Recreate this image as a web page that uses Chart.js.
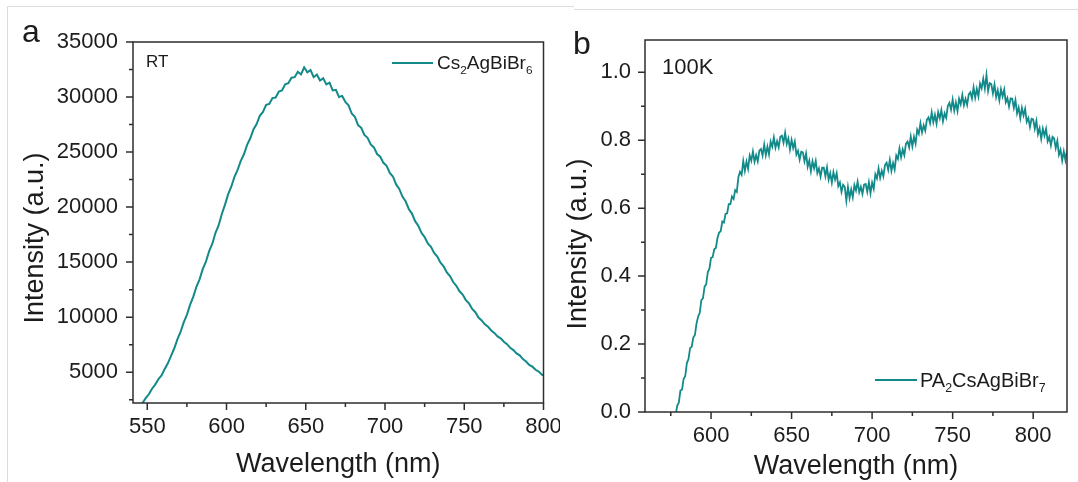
<!DOCTYPE html>
<html>
<head>
<meta charset="utf-8">
<script src="https://cdn.jsdelivr.net/npm/chart.js@4.4.1/dist/chart.umd.min.js"></script>
<style>
  html, body { margin: 0; padding: 0; background: #fff; }
  #wrap { position: relative; width: 1078px; height: 482px; overflow: hidden; background: #fff; }
  #cA { position: absolute; left: 0; top: 0; width: 560px; height: 482px; }
  #cB { position: absolute; left: 560px; top: 0; width: 518px; height: 482px; }
  .edge { position: absolute; background: #dcdcdc; }
</style>
</head>
<body>
<div id="wrap">
  <canvas id="cA" width="560" height="482"></canvas>
  <canvas id="cB" width="518" height="482"></canvas>
  <div class="edge" style="left:7px;top:6px;width:1px;height:476px"></div>
  <div class="edge" style="left:7px;top:6px;width:567px;height:1px"></div>
  <div class="edge" style="left:574px;top:9px;width:504px;height:1px"></div>
</div>
<script>
const FONT = '"Liberation Sans", Arial, sans-serif';
const INK = '#1c1c1c';
const AXIS = '#2e2e2e';
const TEAL = '#138a8a';

// panel a: Cs2AgBiBr6 at room temperature
const wavelengthA = [
  547, 549, 551, 553, 555, 557, 559, 561, 563, 565, 567, 569, 571, 573, 575, 577, 579, 581, 583, 585,
  587, 589, 591, 593, 595, 597, 599, 601, 603, 605, 607, 609, 611, 613, 615, 617, 619, 621, 623, 625,
  627, 629, 631, 633, 635, 637, 639, 641, 643, 645, 647, 649, 651, 653, 655, 657, 659, 661, 663, 665,
  667, 669, 671, 673, 675, 677, 679, 681, 683, 685, 687, 689, 691, 693, 695, 697, 699, 701, 703, 705,
  707, 709, 711, 713, 715, 717, 719, 721, 723, 725, 727, 729, 731, 733, 735, 737, 739, 741, 743, 745,
  747, 749, 751, 753, 755, 757, 759, 761, 763, 765, 767, 769, 771, 773, 775, 777, 779, 781, 783, 785,
  787, 789, 791, 793, 795, 797, 799, 800
];
const intensityA = [
  2200, 2640, 2990, 3500, 3870, 4360, 4700, 5290, 5810, 6490, 7150, 7980, 8650, 9520, 10210, 11120, 11840, 12760, 13440, 14360,
  15040, 15980, 16650, 17640, 18330, 19350, 20200, 21150, 21850, 22750, 23380, 24200, 24800, 25650, 26250, 27050, 27550, 28300, 28650, 29300,
  29380, 29900, 29950, 30500, 30600, 31150, 31250, 31750, 31800, 32300, 32050, 32700, 32250, 32450, 31800, 32050, 31500, 31700, 31150, 31300,
  30600, 30650, 30000, 30100, 29550, 29250, 28500, 28200, 27450, 27200, 26550, 26300, 25700, 25420, 24820, 24580, 24020, 23750, 23100, 22780,
  22060, 21650, 20950, 20530, 19830, 19410, 18720, 18300, 17660, 17280, 16700, 16390, 15830, 15500, 14950, 14610, 14070, 13730, 13190, 12850,
  12350, 12050, 11550, 11250, 10750, 10450, 9960, 9700, 9350, 9130, 8790, 8570, 8250, 8070, 7770, 7550, 7210, 7010, 6710, 6530,
  6190, 5970, 5660, 5500, 5220, 5060, 4780, 4700
];
const xTicksA = [550, 600, 650, 700, 750, 800];
const xMinorA = [575, 625, 675, 725, 775];
const yTicksA = [5000, 10000, 15000, 20000, 25000, 30000, 35000];
const yMinorA = [2500, 7500, 12500, 17500, 22500, 27500, 32500];

// panel b: PA2CsAgBiBr7 at 100 K
const wavelengthB = [
  578, 579, 580, 581, 582, 583, 584, 585, 586, 587, 588, 589, 590, 591, 592, 593, 594, 595, 596, 597,
  598, 599, 600, 601, 602, 603, 604, 605, 606, 607, 608, 609, 610, 611, 612, 613, 614, 615, 616, 617,
  618, 619, 620, 621, 622, 623, 624, 625, 626, 627, 628, 629, 630, 631, 632, 633, 634, 635, 636, 637,
  638, 639, 640, 641, 642, 643, 644, 645, 646, 647, 648, 649, 650, 651, 652, 653, 654, 655, 656, 657,
  658, 659, 660, 661, 662, 663, 664, 665, 666, 667, 668, 669, 670, 671, 672, 673, 674, 675, 676, 677,
  678, 679, 680, 681, 682, 683, 684, 685, 686, 687, 688, 689, 690, 691, 692, 693, 694, 695, 696, 697,
  698, 699, 700, 701, 702, 703, 704, 705, 706, 707, 708, 709, 710, 711, 712, 713, 714, 715, 716, 717,
  718, 719, 720, 721, 722, 723, 724, 725, 726, 727, 728, 729, 730, 731, 732, 733, 734, 735, 736, 737,
  738, 739, 740, 741, 742, 743, 744, 745, 746, 747, 748, 749, 750, 751, 752, 753, 754, 755, 756, 757,
  758, 759, 760, 761, 762, 763, 764, 765, 766, 767, 768, 769, 770, 771, 772, 773, 774, 775, 776, 777,
  778, 779, 780, 781, 782, 783, 784, 785, 786, 787, 788, 789, 790, 791, 792, 793, 794, 795, 796, 797,
  798, 799, 800, 801, 802, 803, 804, 805, 806, 807, 808, 809, 810, 811, 812, 813, 814, 815, 816, 817,
  818, 819, 820, 821
];
const intensityB = [
  -0.010, 0.018, 0.028, 0.063, 0.066, 0.098, 0.106, 0.144, 0.156, 0.188, 0.192, 0.219, 0.227, 0.261, 0.281, 0.292, 0.329, 0.335, 0.369, 0.376,
  0.412, 0.422, 0.454, 0.456, 0.479, 0.483, 0.512, 0.528, 0.532, 0.561, 0.558, 0.583, 0.585, 0.612, 0.612, 0.634, 0.627, 0.653, 0.648, 0.692,
  0.707, 0.698, 0.739, 0.710, 0.737, 0.716, 0.755, 0.740, 0.767, 0.737, 0.756, 0.738, 0.769, 0.774, 0.755, 0.787, 0.756, 0.781, 0.758, 0.796,
  0.781, 0.808, 0.778, 0.797, 0.779, 0.810, 0.813, 0.793, 0.822, 0.789, 0.805, 0.773, 0.801, 0.777, 0.796, 0.758, 0.769, 0.743, 0.766, 0.764,
  0.738, 0.761, 0.722, 0.740, 0.709, 0.738, 0.717, 0.739, 0.703, 0.717, 0.693, 0.719, 0.719, 0.694, 0.720, 0.684, 0.703, 0.675, 0.706, 0.684,
  0.703, 0.665, 0.676, 0.648, 0.669, 0.663, 0.622, 0.662, 0.630, 0.655, 0.632, 0.668, 0.652, 0.678, 0.647, 0.663, 0.642, 0.669, 0.671, 0.648,
  0.676, 0.644, 0.675, 0.657, 0.700, 0.688, 0.717, 0.689, 0.710, 0.694, 0.727, 0.734, 0.713, 0.742, 0.710, 0.733, 0.714, 0.755, 0.745, 0.776,
  0.750, 0.773, 0.756, 0.789, 0.796, 0.779, 0.811, 0.782, 0.810, 0.790, 0.831, 0.819, 0.850, 0.823, 0.844, 0.828, 0.860, 0.867, 0.850, 0.882,
  0.853, 0.875, 0.849, 0.883, 0.865, 0.889, 0.856, 0.879, 0.866, 0.901, 0.910, 0.890, 0.920, 0.887, 0.911, 0.886, 0.922, 0.906, 0.933, 0.903,
  0.922, 0.904, 0.935, 0.941, 0.923, 0.955, 0.925, 0.951, 0.929, 0.967, 0.953, 0.981, 0.952, 0.992, 0.945, 0.968, 0.965, 0.938, 0.964, 0.927,
  0.947, 0.918, 0.950, 0.929, 0.949, 0.912, 0.924, 0.899, 0.923, 0.922, 0.895, 0.918, 0.879, 0.896, 0.865, 0.895, 0.873, 0.892, 0.854, 0.865,
  0.839, 0.863, 0.861, 0.834, 0.857, 0.818, 0.835, 0.804, 0.834, 0.813, 0.833, 0.797, 0.810, 0.785, 0.810, 0.805, 0.777, 0.798, 0.757, 0.772,
  0.740, 0.767, 0.741, 0.770
];
const xTicksB = [600, 650, 700, 750, 800];
const xMinorB = [575, 625, 675, 725, 775];
const yTicksB = [0, 0.2, 0.4, 0.6, 0.8, 1.0];
const yMinorB = [0.1, 0.3, 0.5, 0.7, 0.9];

// text with subscripts, parts = [[text, isSub], ...]
function drawFormula(ctx, parts, x, y, size) {
  let cx = x;
  parts.forEach(([txt, sub]) => {
    const s = sub ? size * 0.62 : size;
    ctx.font = s + 'px ' + FONT;
    ctx.fillText(txt, cx, sub ? y + size * 0.26 : y);
    cx += ctx.measureText(txt).width;
  });
}

function framePlugin(p) {
  return {
    id: 'frame' + p.letter,
    afterDraw(chart) {
      const ctx = chart.ctx;
      const a = chart.chartArea;
      const xs = chart.scales.x, ys = chart.scales.y;
      ctx.save();
      ctx.strokeStyle = AXIS;
      ctx.lineWidth = 1.5;
      ctx.strokeRect(a.left, a.top, a.right - a.left, a.bottom - a.top);
      ctx.beginPath();
      p.xMajor.forEach(v => { const px = xs.getPixelForValue(v); ctx.moveTo(px, a.bottom); ctx.lineTo(px, a.bottom + 7); });
      p.xMinor.forEach(v => { const px = xs.getPixelForValue(v); ctx.moveTo(px, a.bottom); ctx.lineTo(px, a.bottom + 4); });
      p.yMajor.forEach(v => { const py = ys.getPixelForValue(v); ctx.moveTo(a.left, py); ctx.lineTo(a.left - 7, py); });
      p.yMinor.forEach(v => { const py = ys.getPixelForValue(v); ctx.moveTo(a.left, py); ctx.lineTo(a.left - 4, py); });
      ctx.stroke();

      ctx.fillStyle = INK;
      ctx.textBaseline = 'alphabetic';
      ctx.textAlign = 'left';
      ctx.font = '32px ' + FONT;
      ctx.fillText(p.letter, p.letterPos[0], p.letterPos[1]);
      ctx.font = p.noteSize + 'px ' + FONT;
      ctx.fillText(p.note, p.notePos[0], p.notePos[1]);

      // legend
      ctx.strokeStyle = TEAL;
      ctx.lineWidth = 2;
      ctx.beginPath();
      ctx.moveTo(p.legend.x0, p.legend.y);
      ctx.lineTo(p.legend.x1, p.legend.y);
      ctx.stroke();
      drawFormula(ctx, p.legend.parts, p.legend.tx, p.legend.ty, p.legend.size);

      // axis titles
      ctx.font = '27px ' + FONT;
      ctx.textAlign = 'center';
      ctx.fillText('Wavelength (nm)', (a.left + a.right) / 2, p.xTitleY);
      ctx.translate(p.yTitle[0], p.yTitle[1]);
      ctx.rotate(-Math.PI / 2);
      ctx.textBaseline = 'middle';
      ctx.fillText('Intensity (a.u.)', 0, 0);
      ctx.restore();
    }
  };
}

function makeChart(id, xs, ys, p) {
  const points = xs.map((w, i) => ({ x: w, y: ys[i] }));
  return new Chart(document.getElementById(id), {
    type: 'line',
    data: {
      datasets: [{
        data: points,
        borderColor: TEAL,
        borderWidth: p.lineWidth,
        pointRadius: 0,
        tension: 0,
        fill: false
      }]
    },
    options: {
      responsive: false,
      animation: false,
      events: [],
      layout: { padding: { left: 0, top: p.top, right: p.right, bottom: 0 } },
      plugins: { legend: { display: false }, tooltip: { enabled: false } },
      scales: {
        x: {
          type: 'linear',
          min: p.xMin,
          max: p.xMax,
          grid: { display: false, drawTicks: false },
          border: { display: false },
          afterBuildTicks: s => { s.ticks = p.xMajor.map(v => ({ value: v })); },
          afterFit: s => { s.height = p.xHeight; s.paddingLeft = 0; s.paddingRight = 0; },
          ticks: {
            padding: 11,
            color: INK,
            font: { family: FONT, size: 22 },
            maxRotation: 0,
            autoSkip: false,
            callback: v => String(v)
          }
        },
        y: {
          min: p.yMin,
          max: p.yMax,
          grid: { display: false, drawTicks: false },
          border: { display: false },
          afterBuildTicks: s => { s.ticks = p.yMajor.map(v => ({ value: v })); },
          afterFit: s => { s.width = p.yWidth; s.paddingTop = 0; s.paddingBottom = 0; },
          ticks: {
            padding: p.yPad,
            color: INK,
            font: { family: FONT, size: 22 },
            autoSkip: false,
            callback: p.fmt
          }
        }
      }
    },
    plugins: [framePlugin(p)]
  });
}

makeChart('cA', wavelengthA, intensityA, {
  letter: 'a', letterPos: [22, 42],
  note: 'RT', noteSize: 17, notePos: [146, 67],
  legend: { x0: 392, x1: 433, y: 63, tx: 437, ty: 69, size: 19,
            parts: [['Cs', false], ['2', true], ['AgBiBr', false], ['6', true]] },
  xTitleY: 472, yTitle: [36, 238],
  xMin: 541, xMax: 800, yMin: 2200, yMax: 35000,
  xMajor: xTicksA, xMinor: xMinorA, yMajor: yTicksA, yMinor: yMinorA,
  top: 42, right: 16.5, xHeight: 79, yWidth: 133, yPad: 15,
  lineWidth: 2, fmt: v => String(v)
});

makeChart('cB', wavelengthB, intensityB, {
  letter: 'b', letterPos: [13, 54],
  note: '100K', noteSize: 22, notePos: [102, 74],
  legend: { x0: 315, x1: 357, y: 380, tx: 360, ty: 387, size: 20,
            parts: [['PA', false], ['2', true], ['CsAgBiBr', false], ['7', true]] },
  xTitleY: 474, yTitle: [19, 244],
  xMin: 559, xMax: 821, yMin: 0, yMax: 1.095,
  xMajor: xTicksB, xMinor: xMinorB, yMajor: yTicksB, yMinor: yMinorB,
  top: 40, right: 11, xHeight: 70, yWidth: 85, yPad: 14,
  lineWidth: 1.8, fmt: v => v.toFixed(1)
});
</script>
</body>
</html>
